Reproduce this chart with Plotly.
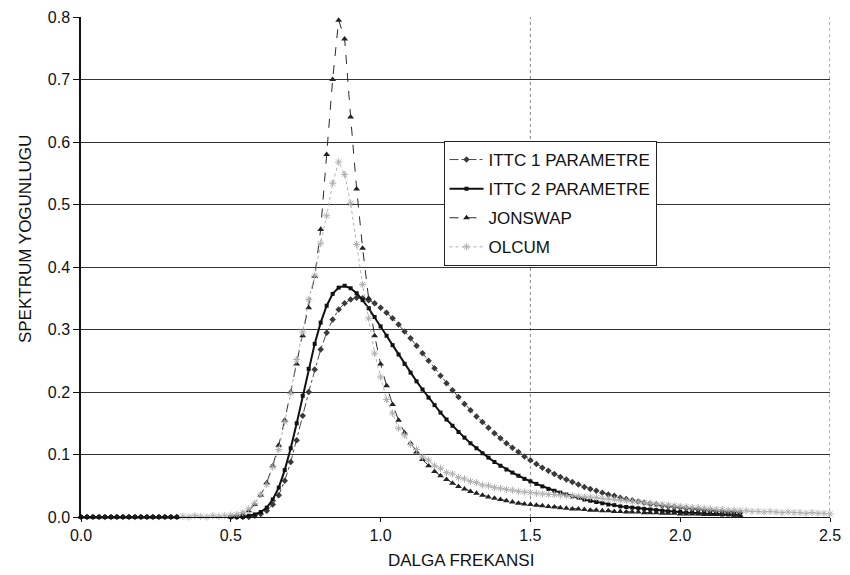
import plotly.graph_objects as go

FREQ = [0.00, 0.02, 0.04, 0.06, 0.08, 0.10, 0.12, 0.14, 0.16, 0.18,
        0.20, 0.22, 0.24, 0.26, 0.28, 0.30, 0.32, 0.34, 0.36, 0.38,
        0.40, 0.42, 0.44, 0.46, 0.48, 0.50, 0.52, 0.54, 0.56, 0.58,
        0.60, 0.62, 0.64, 0.66, 0.68, 0.70, 0.72, 0.74, 0.76, 0.78,
        0.80, 0.82, 0.84, 0.86, 0.88, 0.90, 0.92, 0.94, 0.96, 0.98,
        1.00, 1.02, 1.04, 1.06, 1.08, 1.10, 1.12, 1.14, 1.16, 1.18,
        1.20, 1.22, 1.24, 1.26, 1.28, 1.30, 1.32, 1.34, 1.36, 1.38,
        1.40, 1.42, 1.44, 1.46, 1.48, 1.50, 1.52, 1.54, 1.56, 1.58,
        1.60, 1.62, 1.64, 1.66, 1.68, 1.70, 1.72, 1.74, 1.76, 1.78,
        1.80, 1.82, 1.84, 1.86, 1.88, 1.90, 1.92, 1.94, 1.96, 1.98,
        2.00, 2.02, 2.04, 2.06, 2.08, 2.10, 2.12, 2.14, 2.16, 2.18,
        2.20, 2.22, 2.24, 2.26, 2.28, 2.30, 2.32, 2.34, 2.36, 2.38,
        2.40, 2.42, 2.44, 2.46, 2.48, 2.50]

N = None  # no model point plotted at this frequency

ITTC1 = [0, 0, 0, 0, 0, 0, 0, 0, 0, 0, 0, 0, 0, 0, 0, 0, 0,
         N, N, N, N, N, N, N, N,
         0, 0, 0, 0,
         0.002, 0.005, 0.010, 0.020, 0.035, 0.058, 0.088, 0.123, 0.162, 0.200,
         0.236, 0.268, 0.295, 0.316, 0.332, 0.342, 0.348, 0.351, 0.350, 0.347,
         0.342, 0.335, 0.327, 0.318, 0.308, 0.297, 0.286, 0.274, 0.262, 0.250,
         0.238, 0.226, 0.214, 0.203, 0.192, 0.181, 0.171, 0.161, 0.152, 0.143,
         0.134, 0.126, 0.118, 0.111, 0.104, 0.097, 0.091, 0.085, 0.079, 0.074,
         0.069, 0.064, 0.060, 0.056, 0.052, 0.048, 0.045, 0.042, 0.039, 0.036,
         0.034, 0.031, 0.029, 0.027, 0.025, 0.023, 0.021, 0.020, 0.018, 0.017,
         0.016, 0.015, 0.014, 0.013, 0.012, 0.011, 0.010, 0.009, 0.009, 0.008,
         0.008, 0.007]

ITTC2 = [0, 0, 0, 0, 0, 0, 0, 0, 0, 0, 0, 0, 0, 0, 0, 0, 0,
         N, N, N, N, N, N, N, N,
         0, 0, 0,
         0.002, 0.004, 0.008, 0.015, 0.028, 0.047, 0.075, 0.110, 0.150, 0.194,
         0.237, 0.277, 0.311, 0.338, 0.357, 0.367, 0.370, 0.366, 0.358, 0.347,
         0.334, 0.320, 0.305, 0.290, 0.275, 0.260, 0.245, 0.231, 0.217, 0.204,
         0.191, 0.179, 0.167, 0.156, 0.146, 0.136, 0.127, 0.118, 0.110, 0.102,
         0.095, 0.088, 0.082, 0.076, 0.071, 0.066, 0.061, 0.057, 0.053, 0.049,
         0.045, 0.042, 0.039, 0.036, 0.033, 0.031, 0.028, 0.026, 0.024, 0.022,
         0.020, 0.019, 0.017, 0.016, 0.015, 0.014, 0.013, 0.012, 0.011, 0.010,
         0.009, 0.009, 0.008, 0.007, 0.007, 0.006, 0.006, 0.005, 0.005, 0.004,
         0.004, 0.004, 0.003]

JONSWAP = [0, 0, 0, 0, 0, 0, 0, 0, 0, 0, 0, 0, 0, 0, 0, 0, 0,
           N, N, N, N, N, N, N, N,
           0,
           0.002, 0.005, 0.010, 0.020, 0.035, 0.055, 0.082, 0.115, 0.155, 0.200,
           0.245, 0.290, 0.335, 0.385, 0.460, 0.580, 0.700, 0.795, 0.765, 0.640,
           0.525, 0.430, 0.350, 0.290, 0.245, 0.210, 0.180, 0.155, 0.135, 0.118,
           0.104, 0.092, 0.082, 0.073, 0.066, 0.060, 0.054, 0.049, 0.045, 0.041,
           0.038, 0.035, 0.032, 0.030, 0.028, 0.026, 0.024, 0.022, 0.021, 0.020,
           0.019, 0.018, 0.017, 0.016, 0.015, 0.014, 0.013, 0.013, 0.012, 0.011,
           0.011, 0.010, 0.010, 0.009, 0.009, 0.008, 0.008, 0.008, 0.007, 0.007,
           0.007, 0.006, 0.006, 0.006, 0.005, 0.005, 0.005, 0.005, 0.004, 0.004,
           0.004, 0.004, 0.004, 0.003, 0.003]

OLCUM_START = 17  # FREQ index of first measured point (0.34)
OLCUM = [0.001, 0.000, 0.002, 0.001, 0.000, 0.002, 0.001, 0.002, 0.003, 0.004,
         0.007, 0.013, 0.022, 0.036, 0.052, 0.080, 0.108, 0.152, 0.198, 0.252,
         0.296, 0.348, 0.386, 0.438, 0.482, 0.534, 0.568, 0.548, 0.502, 0.436,
         0.372, 0.318, 0.262, 0.224, 0.188, 0.166, 0.142, 0.131, 0.116, 0.108,
         0.096, 0.091, 0.082, 0.078, 0.071, 0.069, 0.063, 0.061, 0.057, 0.055,
         0.051, 0.050, 0.047, 0.046, 0.044, 0.043, 0.041, 0.040, 0.039, 0.038,
         0.037, 0.036, 0.036, 0.035, 0.034, 0.034, 0.033, 0.032, 0.032, 0.031,
         0.030, 0.029, 0.028, 0.027, 0.026, 0.025, 0.024, 0.023, 0.022, 0.021,
         0.020, 0.019, 0.018, 0.017, 0.016, 0.015, 0.015, 0.014, 0.013, 0.012,
         0.012, 0.011, 0.011, 0.010, 0.010, 0.009, 0.009, 0.008, 0.009, 0.008,
         0.007, 0.008, 0.007, 0.007, 0.006, 0.007, 0.006, 0.006, 0.005, 0.006]

NAMES = ["ITTC 1 PARAMETRE", "ITTC 2 PARAMETRE", "JONSWAP", "OLCUM"]
X_TICKS = [0.0, 0.5, 1.0, 1.5, 2.0, 2.5]
Y_TICKS = [0.0, 0.1, 0.2, 0.3, 0.4, 0.5, 0.6, 0.7, 0.8]

FONT = "Liberation Sans, Arial, sans-serif"

fig = go.Figure()

fig.add_trace(go.Scatter(
    x=FREQ[:len(ITTC1)], y=ITTC1, name=NAMES[0], legendgroup="a",
    mode="lines+markers", cliponaxis=False,
    line=dict(color="#4a4a4a", width=1, dash="dashdot"),
    marker=dict(symbol="diamond", size=5, color="#3a3a3a")))

fig.add_trace(go.Scatter(
    x=FREQ[:len(ITTC2)], y=ITTC2, name=NAMES[1], legendgroup="b",
    mode="lines+markers", cliponaxis=False,
    line=dict(color="#111111", width=2),
    marker=dict(symbol="square", size=4, color="#111111")))

fig.add_trace(go.Scatter(
    x=FREQ[:len(JONSWAP)], y=JONSWAP, name=NAMES[2], legendgroup="c",
    mode="lines+markers", cliponaxis=False,
    line=dict(color="#2a2a2a", width=1, dash="dash"),
    marker=dict(symbol="triangle-up", size=6, color="#222222")))

fig.add_trace(go.Scatter(
    x=FREQ[OLCUM_START:OLCUM_START + len(OLCUM)], y=OLCUM, name=NAMES[3],
    legendgroup="d", mode="lines+markers", cliponaxis=False,
    line=dict(color="#b0b0b0", width=1, dash="dot"),
    marker=dict(symbol="asterisk-open", size=6,
                line=dict(color="#a8a8a8", width=1))))

fig.update_layout(
    width=850, height=575,
    margin=dict(l=81, r=13, t=9, b=58),
    paper_bgcolor="white", plot_bgcolor="white",
    font=dict(family=FONT, size=16, color="#111"),
    showlegend=True,
    legend=dict(x=0.484, y=0.752, xanchor="left", yanchor="top",
                bgcolor="white", bordercolor="#222", borderwidth=1,
                font=dict(family=FONT, size=17, color="#111"),
                tracegroupgap=4, itemwidth=34),
    xaxis=dict(range=[0, 2.5], tickvals=X_TICKS, tickformat=".1f",
               showgrid=False, zeroline=False,
               showline=True, linecolor="#111", linewidth=1,
               ticks="outside", ticklen=4, tickcolor="#111",
               tickfont=dict(size=16)),
    yaxis=dict(range=[0, 0.8], tickvals=Y_TICKS, tickformat=".1f",
               showgrid=True, gridcolor="#333", gridwidth=1,
               zeroline=False,
               showline=True, linecolor="#111", linewidth=1.5,
               ticks="outside", ticklen=6, tickcolor="#111",
               tickfont=dict(size=16)),
    shapes=[
        dict(type="line", xref="x", yref="y", x0=1.5, x1=1.5, y0=0, y1=0.8,
             line=dict(color="#888", width=1, dash="dot"), layer="below"),
        dict(type="line", xref="x", yref="y", x0=2.5, x1=2.5, y0=0, y1=0.8,
             line=dict(color="#666", width=1, dash="dot"), layer="below"),
    ],
    annotations=[
        dict(text="SPEKTRUM YOGUNLUGU", xref="paper", yref="paper",
             x=-0.074, y=0.555, xanchor="center", yanchor="middle",
             textangle=-90, showarrow=False,
             font=dict(family=FONT, size=17, color="#111")),
        dict(text="DALGA FREKANSI", xref="paper", yref="paper",
             x=0.508, y=-0.086, xanchor="center", yanchor="middle",
             showarrow=False,
             font=dict(family=FONT, size=17, color="#111")),
    ],
)

fig.write_html("out.html")
